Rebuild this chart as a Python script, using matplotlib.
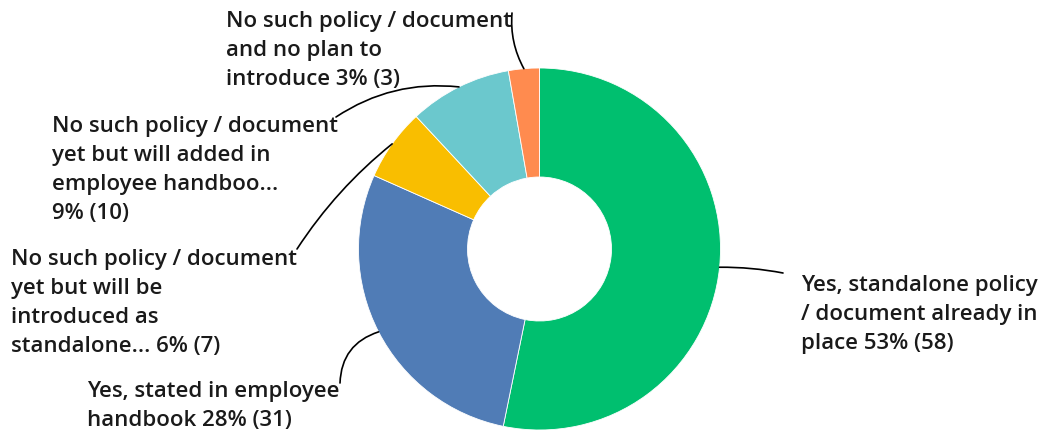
import numpy as np
import matplotlib.pyplot as plt

labels = [
    'Yes, standalone policy\n/ document already in\nplace 53% (58)',
    'Yes, stated in employee\nhandbook 28% (31)',
    'No such policy / document\nyet but will be\nintroduced as\nstandalone... 6% (7)',
    'No such policy / document\nyet but will added in\nemployee handboo...\n9% (10)',
    'No such policy / document\nand no plan to\nintroduce 3% (3)',
]
counts = [58, 31, 7, 10, 3]
colors = ['#00BF6F', '#507CB6', '#F9BE00', '#6BC8CD', '#FF8B4F']

# label anchor (px, top-left of text block) and leader curvature
label_pos = [(801, 275), (87, 381), (11, 249), (52, 116), (226, 11)]
leader_end = [(783, 273), (340, 383), (297, 249), (336, 117), (512, 13)]
leader_rad = [0.05, -0.35, -0.08, -0.18, 0.15]

W, H = 1047, 430
cx, cy, R, r_hole = 539.5, 249, 181, 72

plt.rcParams['font.family'] = ['Open Sans', 'DejaVu Sans']

fig = plt.figure(figsize=(W / 100, H / 100), dpi=100)
ax = fig.add_axes([0, 0, 1, 1])

wedges, _ = ax.pie(counts, colors=colors, startangle=90, counterclock=False,
                   center=(cx, H - cy), radius=R,
                   wedgeprops=dict(width=R - r_hole, linewidth=0.6, edgecolor='white'))
# pie resets the limits, so set them afterwards
ax.set_xlim(0, W)
ax.set_ylim(0, H)
ax.set_aspect('equal')
ax.axis('off')

for w, lab, pos, end, rad in zip(wedges, labels, label_pos, leader_end, leader_rad):
    ang = np.deg2rad((w.theta1 + w.theta2) / 2)
    px = cx + R * np.cos(ang)
    py = (H - cy) + R * np.sin(ang)
    ax.annotate('', xy=(px, py), xytext=(end[0], H - end[1]),
                arrowprops=dict(arrowstyle='-', color='black', lw=1.2,
                                shrinkA=0, shrinkB=0,
                                connectionstyle=f'arc3,rad={rad}'))
    ax.text(pos[0], H - pos[1], lab, ha='left', va='top', fontsize=16,
            fontweight='semibold', color='#1a1a1a', linespacing=1.5)

fig.savefig('out.png', dpi=100)
